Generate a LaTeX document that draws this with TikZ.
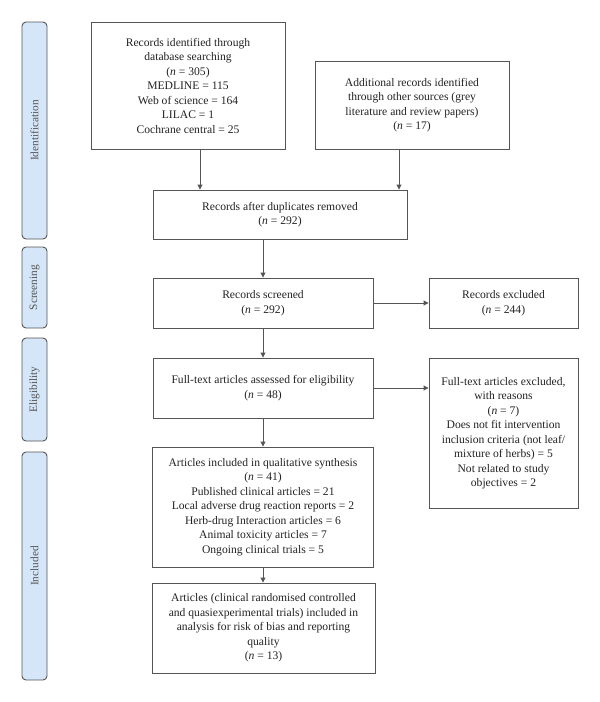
\documentclass[tikz,border=0pt]{standalone}
\usepackage{fontspec}
\setmainfont{Liberation Serif}
\usetikzlibrary{arrows.meta,calc}
\definecolor{barfill}{HTML}{D4E6F8}
\definecolor{linec}{HTML}{555555}
\definecolor{txtc}{HTML}{222222}
\tikzset{
  box/.style={draw=linec, line width=0.9pt, inner sep=0pt, align=center,
    text=txtc, font=\fontsize{11.6}{14.5}\selectfont},
  bar/.style={draw=linec, fill=barfill, line width=0.9pt, rounded corners=4pt},
  barlabel/.style={rotate=90, text=linec, font=\fontsize{11.3}{13}\selectfont},
  arr/.style={draw=linec, line width=0.9pt, -{Triangle[length=5pt,width=5pt]}}
}
\newcommand{\nn}{\textit{n}}
\begin{document}
\begin{tikzpicture}[x=1pt,y=-1pt]
\useasboundingbox (0,0) rectangle (600,702);
% side bars
\draw[bar] (22,22) rectangle (47,239);
\node[barlabel] (lid) at (34.5,130.5) {Identification};
\draw[bar] (22,247) rectangle (47,328);
\node[barlabel] (lsc) at (34.5,287.5) {Screening};
\draw[bar] (22,338) rectangle (47,441);
\node[barlabel] (lel) at (34.5,389.5) {Eligibility};
\draw[bar] (22,452) rectangle (47,680);
\node[barlabel] (lin) at (34.5,566) {Included};
% boxes
\node[box, minimum width=194pt, minimum height=127pt] (b1) at (188,85.5)
 {Records identified through\\database searching\\(\nn{} = 305)\\MEDLINE = 115\\Web of science = 164\\LILAC = 1\\Cochrane central = 25};
\node[box, minimum width=194pt, minimum height=88pt] (b2) at (412,105)
 {Additional records identified\\through other sources (grey\\literature and review papers)\\(\nn{} = 17)};
\node[box, minimum width=254pt, minimum height=49pt] (b3) at (280,214.5)
 {Records after duplicates removed\\(\nn{} = 292)};
\node[box, minimum width=220pt, minimum height=50pt] (b4) at (263,303)
 {Records screened\\(\nn{} = 292)};
\node[box, minimum width=149pt, minimum height=50pt] (b5) at (503.5,303)
 {Records excluded\\(\nn{} = 244)};
\node[box, minimum width=220pt, minimum height=60pt] (b6) at (263,388)
 {Full-text articles assessed for eligibility\\(\nn{} = 48)};
\node[box, minimum width=149pt, minimum height=150pt] (b7) at (503.5,433)
 {Full-text articles excluded,\\with reasons\\(\nn{} = 7)\\Does not fit intervention\\inclusion criteria (not leaf/\\mixture of herbs) = 5\\Not related to study\\objectives = 2};
\node[box, minimum width=221pt, minimum height=120pt] (b8) at (263,507)
 {Articles included in qualitative synthesis\\(\nn{} = 41)\\Published clinical articles = 21\\Local adverse drug reaction reports = 2\\Herb-drug Interaction articles = 6\\Animal toxicity articles = 7\\Ongoing clinical trials = 5};
\node[box, minimum width=223pt, minimum height=90pt] (b9) at (263.5,628)
 {Articles (clinical randomised controlled\\and quasiexperimental trials) included in\\analysis for risk of bias and reporting\\quality\\(\nn{} = 13)};
% arrows
\draw[arr] ([xshift=12pt]b1.south) -- ([xshift=12pt]b1.south |- b3.north);
\draw[arr] ([xshift=-13pt]b2.south) -- ([xshift=-13pt]b2.south |- b3.north);
\draw[arr] (b4.north |- b3.south) -- (b4.north);
\draw[arr] (b4.south) -- (b6.north);
\draw[arr] (b6.south) -- (b6.south |- b8.north);
\draw[arr] (b8.south) -- (b8.south |- b9.north);
\draw[arr] (b4.east) -- (b5.west);
\draw[arr] (b6.east) -- (b6.east -| b7.west);
\end{tikzpicture}
\end{document}
